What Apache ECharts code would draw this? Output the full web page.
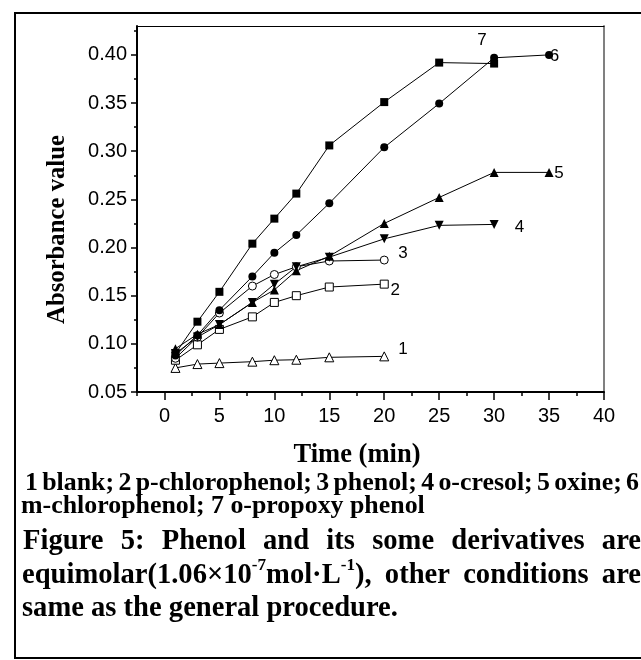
<!DOCTYPE html>
<html>
<head>
<meta charset="utf-8">
<script src="https://cdn.jsdelivr.net/npm/echarts@6/dist/echarts.min.js"></script>
<style>
html,body{margin:0;padding:0;background:#fff;}
#chart{width:641px;height:660px;}
</style>
</head>
<body>
<div id="chart"></div>
<script>
// ---------- data ----------
const timesA = [1, 3, 5, 8, 10, 12, 15, 20];
const timesB = [1, 3, 5, 8, 10, 12, 15, 20, 25, 30];
const timesC = [1, 3, 5, 8, 10, 12, 15, 20, 25, 30, 35];

const blank         = [0.075, 0.079, 0.080, 0.0815, 0.083, 0.0835, 0.086, 0.087];
const pChlorophenol = [0.083, 0.099, 0.115, 0.128, 0.143, 0.150, 0.159, 0.162];
const phenol        = [0.085, 0.107, 0.132, 0.160, 0.172, 0.180, 0.186, 0.187];
const oCresol       = [0.090, 0.107, 0.120, 0.143, 0.162, 0.180, 0.190, 0.209, 0.223, 0.224];
const oxine         = [0.095, 0.110, 0.120, 0.143, 0.156, 0.176, 0.191, 0.225, 0.252, 0.278, 0.278];
const mChlorophenol = [0.088, 0.109, 0.135, 0.170, 0.1945, 0.213, 0.246, 0.304, 0.3495, 0.397, 0.400];
const oPropoxy      = [0.090, 0.123, 0.154, 0.204, 0.230, 0.256, 0.306, 0.351, 0.392, 0.391];

const curveLabels = [
  [28.9, 0.415, '7'], [35.5, 0.399, '6'], [35.9, 0.277, '5'], [32.3, 0.221, '4'],
  [21.7, 0.194, '3'], [21.0, 0.156, '2'], [21.7, 0.094, '1']
];

const xMajorTicks = [0, 5, 10, 15, 20, 25, 30, 35, 40];
const xMinorTicks = [-2.5, 2.5, 7.5, 12.5, 17.5, 22.5, 27.5, 32.5, 37.5];
const yMajorTicks = [0.05, 0.10, 0.15, 0.20, 0.25, 0.30, 0.35, 0.40];
const yMinorTicks = [0.075, 0.125, 0.175, 0.225, 0.275, 0.325, 0.375, 0.425];

const xTitle = 'Time (min)';
const yTitle = 'Absorbance value';
const captionLine1 = '1 blank; 2 p-chlorophenol; 3 phenol; 4 o-cresol; 5 oxine; 6';
const captionLine2 = 'm-chlorophenol; 7 o-propoxy phenol';
const captionLine3 = 'Figure 5: Phenol and its some derivatives are';
const captionLine4 = [[{t:'equimolar(1.06×10'},{t:'-7',sup:true},{t:'mol·L'},{t:'-1',sup:true},{t:'),'}], [{t:'other'}], [{t:'conditions'}], [{t:'are'}]];
const captionLine5 = 'same as the general procedure.';

// ---------- helpers ----------
const SERIF = '"Liberation Serif", "Times New Roman", serif';
const SANS = '"Liberation Sans", Arial, sans-serif';
const ctx = document.createElement('canvas').getContext('2d');
function tw(text, size, bold) {
  ctx.font = (bold ? 'bold ' : '') + size + 'px ' + SERIF;
  return ctx.measureText(text).width;
}
function fitSize(text, width) { return 100 * width / tw(text, 100, true); }

function wordsOf(str) { return str.split(' ').map(w => [{t: w}]); }

function buildLine(words, x0, x1, yc, size, justify) {
  const supSize = size * 0.6;
  const wordW = words.map(segs => segs.reduce((s, g) => s + tw(g.t, g.sup ? supSize : size, true), 0));
  const total = wordW.reduce((a, b) => a + b, 0);
  const gap = justify && words.length > 1 ? (x1 - x0 - total) / (words.length - 1) : tw(' ', size, true);
  const els = [];
  let x = x0;
  words.forEach((segs, i) => {
    let sx = x;
    segs.forEach(g => {
      const fs = g.sup ? supSize : size;
      els.push({
        type: 'text', z: 10,
        style: {
          text: g.t, x: sx, y: g.sup ? yc - size * 0.36 : yc,
          font: 'bold ' + fs + 'px ' + SERIF, fill: '#000',
          align: 'left', verticalAlign: 'middle'
        }
      });
      sx += tw(g.t, fs, true);
    });
    x += wordW[i] + gap;
  });
  return els;
}

// ---------- layout ----------
const smallCap = fitSize(captionLine2, 404);
const bigCap = fitSize(captionLine5, 376);
const graphics = [
  { type: 'rect', z: 0, shape: { x: 15, y: 13, width: 700, height: 645 },
    style: { fill: 'none', stroke: '#000', lineWidth: 2 } },
  { type: 'text', z: 10, style: { text: xTitle, x: 357, y: 455, align: 'center', verticalAlign: 'middle',
      font: 'bold ' + fitSize(xTitle, 127) + 'px ' + SERIF, fill: '#000' } },
  { type: 'text', z: 10, x: 58, y: 229.5, rotation: Math.PI / 2,
    style: { text: yTitle, x: 0, y: 0, align: 'center', verticalAlign: 'middle',
      font: 'bold ' + fitSize(yTitle, 189) + 'px ' + SERIF, fill: '#000' } }
]
.concat(buildLine(wordsOf(captionLine1), 25, 639, 483, smallCap, true))
.concat(buildLine(wordsOf(captionLine2), 21, 425, 506, smallCap, false))
.concat(buildLine(wordsOf(captionLine3), 23, 641, 542, bigCap, true))
.concat(buildLine(captionLine4, 22, 641, 576, bigCap, true))
.concat(buildLine(wordsOf(captionLine5), 22, 400, 609, bigCap, false));

function zip(t, v) { return t.map((x, i) => [x, v[i]]); }

function lineSeries(name, t, v, symbol, size, filled, rotate) {
  return {
    name, type: 'line', data: zip(t, v), symbol, symbolSize: size, symbolRotate: rotate || 0,
    showSymbol: true, animation: false,
    lineStyle: { color: '#000', width: 1 },
    itemStyle: { color: filled ? '#000' : '#fff', borderColor: '#000', borderWidth: filled ? 0 : 1 },
    emphasis: { disabled: true }
  };
}

const axisCommonX = { type: 'value', min: -2.5, max: 40, splitLine: { show: false } };
const axisCommonY = { type: 'value', min: 0.05, max: 0.43, splitLine: { show: false } };

const option = {
  animation: false,
  backgroundColor: '#fff',
  grid: { left: 137, right: 37, top: 26, bottom: 268, containLabel: false },
  xAxis: [
    Object.assign({}, axisCommonX, {
      position: 'bottom',
      axisLine: { onZero: false, lineStyle: { color: '#000', width: 2 } },
      axisTick: { show: true, customValues: xMajorTicks, length: 8, lineStyle: { color: '#000', width: 1.5 } },
      axisLabel: { customValues: xMajorTicks, fontSize: 20, fontFamily: SANS, color: '#000', margin: 14,
        formatter: v => String(v) }
    }),
    Object.assign({}, axisCommonX, {
      position: 'bottom',
      axisLine: { show: false, onZero: false },
      axisTick: { show: true, customValues: xMinorTicks, length: 4, lineStyle: { color: '#000', width: 1.5 } },
      axisLabel: { show: false }
    }),
    Object.assign({}, axisCommonX, {
      position: 'top',
      axisLine: { onZero: false, lineStyle: { color: '#000', width: 1 } },
      axisTick: { show: false }, axisLabel: { show: false }
    })
  ],
  yAxis: [
    Object.assign({}, axisCommonY, {
      position: 'left',
      axisLine: { onZero: false, lineStyle: { color: '#000', width: 2 } },
      axisTick: { show: true, customValues: yMajorTicks, length: 6, lineStyle: { color: '#000', width: 1.5 } },
      axisLabel: { customValues: yMajorTicks, fontSize: 20, fontFamily: SANS, color: '#000', margin: 10,
        formatter: v => v.toFixed(2) }
    }),
    Object.assign({}, axisCommonY, {
      position: 'left',
      axisLine: { show: false, onZero: false },
      axisTick: { show: true, customValues: yMinorTicks, length: 3, lineStyle: { color: '#000', width: 1.5 } },
      axisLabel: { show: false }
    }),
    Object.assign({}, axisCommonY, {
      position: 'right',
      axisLine: { onZero: false, lineStyle: { color: '#808080', width: 2 } },
      axisTick: { show: false }, axisLabel: { show: false }
    })
  ],
  series: [
    lineSeries('1 blank', timesA, blank, 'triangle', 9, false),
    lineSeries('2 p-chlorophenol', timesA, pChlorophenol, 'rect', 8, false),
    lineSeries('3 phenol', timesA, phenol, 'circle', 8, false),
    lineSeries('4 o-cresol', timesB, oCresol, 'triangle', 9, true, 180),
    lineSeries('5 oxine', timesC, oxine, 'triangle', 9, true),
    lineSeries('6 m-chlorophenol', timesC, mChlorophenol, 'circle', 8, true),
    lineSeries('7 o-propoxy phenol', timesB, oPropoxy, 'rect', 8, true),
    {
      type: 'scatter', data: curveLabels, symbol: 'circle', symbolSize: 1,
      itemStyle: { color: 'rgba(0,0,0,0)' }, silent: true,
      label: { show: true, position: 'inside', formatter: p => p.data[2], fontSize: 17,
        fontFamily: SANS, color: '#000', opacity: 1 },
      emphasis: { disabled: true },
      z: 5
    }
  ],
  graphic: graphics
};

const chart = echarts.init(document.getElementById('chart'), null, { renderer: 'canvas' });
chart.setOption(option);
</script>
</body>
</html>
